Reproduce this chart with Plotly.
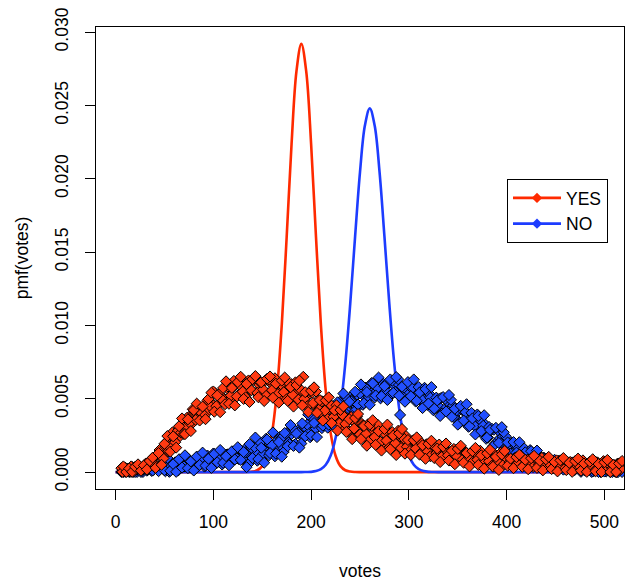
import plotly.graph_objects as go

# Observed vote counts: three interleaved runs of counts
votes = list(range(6, 520, 3))
votes_b = list(range(7, 520, 3))
votes_c = list(range(8, 520, 3))

# Observed pmf of the YES votes
yes_pmf = [
    0.00027, 0.00004, 0.00022, 0.00003, 0.00030, 0.00018, 0.00043, 0.00022, 0.00043, 0.00045, 0.00076, 0.00063,
    0.00114, 0.00151, 0.00108, 0.00174, 0.00142, 0.00234, 0.00218, 0.00294, 0.00246, 0.00310, 0.00304, 0.00377,
    0.00330, 0.00405, 0.00436, 0.00387, 0.00446, 0.00405, 0.00488, 0.00463,
    0.00538, 0.00460, 0.00522, 0.00498, 0.00572, 0.00496, 0.00575, 0.00601, 0.00527, 0.00588, 0.00522, 0.00610,
    0.00563, 0.00630, 0.00542, 0.00594, 0.00560, 0.00624, 0.00537, 0.00605, 0.00623, 0.00540, 0.00592, 0.00519,
    0.00597, 0.00541, 0.00600, 0.00504, 0.00548, 0.00507, 0.00650, 0.00470, 0.00531, 0.00541, 0.00449, 0.00492,
    0.00410, 0.00480, 0.00415, 0.00465, 0.00362, 0.00400, 0.00353, 0.00406, 0.00309, 0.00367, 0.00375, 0.00286,
    0.00332, 0.00253, 0.00329, 0.00270, 0.00326, 0.00228, 0.00272, 0.00231, 0.00290, 0.00199, 0.00263, 0.00277,
    0.00191, 0.00240, 0.00164, 0.00243, 0.00187, 0.00246,
    0.00162, 0.00191, 0.00160, 0.00200, 0.00136, 0.00180, 0.00190, 0.00129, 0.00163, 0.00109, 0.00165, 0.00127,
    0.00169, 0.00103, 0.00135, 0.00108, 0.00150, 0.00088, 0.00134, 0.00145, 0.00086, 0.00121, 0.00069, 0.00126,
    0.00088, 0.00130, 0.00064, 0.00097, 0.00071, 0.00115, 0.00054, 0.00101, 0.00114, 0.00056,
    0.00089, 0.00053, 0.00094, 0.00068, 0.00098, 0.00052, 0.00075, 0.00056, 0.00087, 0.00043, 0.00077, 0.00085,
    0.00044, 0.00070, 0.00033, 0.00074, 0.00048, 0.00078, 0.00032, 0.00055, 0.00038, 0.00069, 0.00026, 0.00060,
    0.00070, 0.00029, 0.00055, 0.00019, 0.00062, 0.00036, 0.00067, 0.00021, 0.00045, 0.00027, 0.00058, 0.00014,
    0.00048, 0.00056, 0.00015, 0.00040,
]
yes_pmf_b = [
    0.00002, 0.00030, 0.00010, 0.00039, 0.00007, 0.00032, 0.00024, 0.00017, 0.00059, 0.00050, 0.00089, 0.00046,
    0.00123, 0.00105, 0.00093, 0.00205, 0.00173, 0.00270, 0.00204, 0.00284, 0.00269, 0.00260, 0.00370, 0.00335,
    0.00429, 0.00356, 0.00427, 0.00403, 0.00385, 0.00489, 0.00448,
    0.00550, 0.00450, 0.00532, 0.00495, 0.00463, 0.00584, 0.00523, 0.00622, 0.00516, 0.00592, 0.00549, 0.00510,
    0.00625, 0.00558, 0.00645, 0.00540, 0.00612, 0.00564, 0.00520, 0.00630, 0.00559, 0.00640, 0.00532, 0.00599,
    0.00545, 0.00497, 0.00603, 0.00527, 0.00612, 0.00494, 0.00558, 0.00500, 0.00449, 0.00552, 0.00471, 0.00550,
    0.00426, 0.00483, 0.00419, 0.00362, 0.00459, 0.00377, 0.00456, 0.00332, 0.00390, 0.00329, 0.00275, 0.00376,
    0.00297, 0.00379, 0.00258, 0.00319, 0.00261, 0.00210, 0.00315, 0.00239, 0.00324, 0.00206, 0.00270, 0.00215,
    0.00167, 0.00273, 0.00197, 0.00282, 0.00164, 0.00228, 0.00173,
    0.00144, 0.00216, 0.00161, 0.00219, 0.00136, 0.00181, 0.00141, 0.00108, 0.00181, 0.00128, 0.00188, 0.00107,
    0.00153, 0.00115, 0.00083, 0.00158, 0.00106, 0.00167, 0.00086, 0.00132, 0.00094, 0.00062, 0.00137, 0.00085,
    0.00146, 0.00065, 0.00111, 0.00074, 0.00044, 0.00120, 0.00070, 0.00132, 0.00052,
    0.00094, 0.00068, 0.00046, 0.00100, 0.00064, 0.00108, 0.00050, 0.00084, 0.00058, 0.00035, 0.00090, 0.00053,
    0.00097, 0.00039, 0.00073, 0.00048, 0.00025, 0.00080, 0.00043, 0.00086, 0.00029, 0.00063, 0.00038, 0.00016,
    0.00072, 0.00036, 0.00080, 0.00024, 0.00058, 0.00033, 0.00010, 0.00066, 0.00030, 0.00075, 0.00018, 0.00051,
    0.00026, 0.00003, 0.00058, 0.00021,
]
yes_pmf_c = [
    0.00039, 0.00001, 0.00025, 0.00002, 0.00036, 0.00053, 0.00010, 0.00046, 0.00018, 0.00076, 0.00099,
    0.00029, 0.00130, 0.00050, 0.00193, 0.00246, 0.00140, 0.00244, 0.00167, 0.00313, 0.00366, 0.00259, 0.00360,
    0.00280, 0.00423, 0.00467, 0.00352, 0.00447, 0.00361, 0.00498, 0.00542,
    0.00412, 0.00523, 0.00409, 0.00574, 0.00619, 0.00466, 0.00574, 0.00455, 0.00614, 0.00650, 0.00499, 0.00601,
    0.00478, 0.00634, 0.00655, 0.00511, 0.00612, 0.00485, 0.00637, 0.00652, 0.00507, 0.00603, 0.00474, 0.00624,
    0.00645, 0.00486, 0.00579, 0.00447, 0.00594, 0.00624, 0.00455, 0.00545, 0.00410, 0.00554, 0.00578, 0.00404,
    0.00491, 0.00351, 0.00489, 0.00510, 0.00334, 0.00421, 0.00283, 0.00424, 0.00448, 0.00274, 0.00361, 0.00225,
    0.00369, 0.00396, 0.00225, 0.00315, 0.00180, 0.00324, 0.00354, 0.00186, 0.00279, 0.00147, 0.00294, 0.00324,
    0.00156, 0.00249, 0.00117, 0.00264, 0.00294, 0.00126, 0.00219,
    0.00117, 0.00218, 0.00237, 0.00119, 0.00183, 0.00091, 0.00193, 0.00214, 0.00096, 0.00161, 0.00069, 0.00173,
    0.00195, 0.00079, 0.00145, 0.00054, 0.00158, 0.00180, 0.00064, 0.00130, 0.00039, 0.00143, 0.00165, 0.00049,
    0.00115, 0.00024, 0.00128, 0.00152, 0.00037, 0.00104, 0.00015, 0.00120, 0.00144,
    0.00044, 0.00092, 0.00027, 0.00102, 0.00119, 0.00036, 0.00084, 0.00020, 0.00095, 0.00111, 0.00029, 0.00077,
    0.00012, 0.00087, 0.00104, 0.00021, 0.00069, 0.00005, 0.00080, 0.00096, 0.00014, 0.00063, 0.00002, 0.00075,
    0.00092, 0.00010, 0.00059, 0.00002, 0.00071, 0.00088, 0.00006, 0.00055, 0.00001, 0.00067, 0.00083, 0.00001,
    0.00049, 0.00001, 0.00059, 0.00076,
]

# Observed pmf of the NO votes
no_pmf = [
    0.00001, 0.00019, 0.00007, 0.00018, 0.00001, 0.00017, 0.00024, 0.00006, 0.00019, 0.00015, 0.00034, 0.00017,
    0.00038, 0.00028, 0.00041,
    0.00006, 0.00051, 0.00066, 0.00021, 0.00051, 0.00039, 0.00084, 0.00039, 0.00087, 0.00057, 0.00087, 0.00039,
    0.00084, 0.00099, 0.00054, 0.00084, 0.00072, 0.00117, 0.00072, 0.00120, 0.00090, 0.00120, 0.00072, 0.00117,
    0.00133, 0.00089, 0.00120,
    0.00101, 0.00175, 0.00099, 0.00179, 0.00129, 0.00180, 0.00100, 0.00176, 0.00202, 0.00128, 0.00180, 0.00162,
    0.00240, 0.00168, 0.00250, 0.00203, 0.00260, 0.00187, 0.00269, 0.00301, 0.00233, 0.00290, 0.00277, 0.00359,
    0.00291, 0.00378, 0.00335, 0.00392, 0.00319, 0.00401, 0.00433, 0.00365, 0.00422, 0.00409, 0.00491, 0.00423,
    0.00510, 0.00467, 0.00524, 0.00451,
    0.00530, 0.00558, 0.00497, 0.00548, 0.00532, 0.00603, 0.00538, 0.00608, 0.00562, 0.00606, 0.00529, 0.00591,
    0.00607, 0.00390, 0.00569, 0.00542, 0.00600, 0.00521, 0.00580, 0.00524, 0.00556, 0.00470, 0.00524, 0.00533,
    0.00452, 0.00483, 0.00452, 0.00506, 0.00425, 0.00483, 0.00424, 0.00454, 0.00367, 0.00419, 0.00427, 0.00344,
    0.00375, 0.00340, 0.00391, 0.00307, 0.00361, 0.00298, 0.00326, 0.00235, 0.00285, 0.00289, 0.00204, 0.00231,
    0.00240, 0.00244,
    0.00169, 0.00202, 0.00157, 0.00172, 0.00111, 0.00142, 0.00144, 0.00087, 0.00105, 0.00081, 0.00116, 0.00061,
    0.00099, 0.00063, 0.00072, 0.00042, 0.00058, 0.00061, 0.00034, 0.00045, 0.00034, 0.00052, 0.00026, 0.00046,
    0.00027, 0.00039, 0.00011, 0.00030, 0.00034, 0.00008, 0.00021, 0.00011, 0.00031, 0.00005, 0.00026, 0.00008,
    0.00020, 0.00001, 0.00014, 0.00019,
]
no_pmf_b = [
    0.00015, 0.00002, 0.00023, 0.00003, 0.00029, 0.00001, 0.00018, 0.00001, 0.00027, 0.00030, 0.00008, 0.00039,
    0.00021, 0.00048, 0.00022,
    0.00045, 0.00002, 0.00064, 0.00067, 0.00011, 0.00086, 0.00038, 0.00100, 0.00032, 0.00072, 0.00025, 0.00091,
    0.00094, 0.00038, 0.00113, 0.00065, 0.00127, 0.00059, 0.00099, 0.00052, 0.00118, 0.00121, 0.00065, 0.00140,
    0.00093, 0.00156, 0.00089,
    0.00136, 0.00056, 0.00166, 0.00171, 0.00078, 0.00202, 0.00124, 0.00228, 0.00115, 0.00184, 0.00108, 0.00220,
    0.00228, 0.00138, 0.00266, 0.00191, 0.00299, 0.00192, 0.00267, 0.00195, 0.00312, 0.00324, 0.00238, 0.00369,
    0.00297, 0.00407, 0.00300, 0.00375, 0.00303, 0.00420, 0.00432, 0.00346, 0.00477, 0.00405, 0.00515, 0.00408,
    0.00483, 0.00411, 0.00528,
    0.00537, 0.00459, 0.00576, 0.00512, 0.00608, 0.00509, 0.00573, 0.00503, 0.00601, 0.00604, 0.00518, 0.00624,
    0.00547, 0.00634, 0.00525, 0.00576, 0.00495, 0.00585, 0.00577, 0.00481, 0.00580, 0.00496, 0.00575, 0.00459,
    0.00507, 0.00422, 0.00508, 0.00499, 0.00401, 0.00499, 0.00415, 0.00493, 0.00375, 0.00422, 0.00335, 0.00420,
    0.00409, 0.00309, 0.00404, 0.00317, 0.00393, 0.00273, 0.00316, 0.00227, 0.00308, 0.00295, 0.00192, 0.00286,
    0.00197, 0.00272,
    0.00166, 0.00191, 0.00129, 0.00180, 0.00169, 0.00100, 0.00161, 0.00100, 0.00150, 0.00070, 0.00098, 0.00041,
    0.00098, 0.00091, 0.00046, 0.00077, 0.00047, 0.00072, 0.00033, 0.00049, 0.00021, 0.00050, 0.00047, 0.00015,
    0.00048, 0.00022, 0.00048, 0.00010, 0.00028, 0.00001, 0.00030, 0.00029, 0.00001, 0.00032, 0.00006, 0.00033,
    0.00001, 0.00014, 0.00001, 0.00018,
]
no_pmf_c = [
    0.00001, 0.00024, 0.00001, 0.00035, 0.00001, 0.00018, 0.00001, 0.00032, 0.00010, 0.00046, 0.00011, 0.00030,
    0.00007, 0.00047, 0.00013,
    0.00097, 0.00009, 0.00055, 0.00002, 0.00088, 0.00031, 0.00115, 0.00027, 0.00073, 0.00011, 0.00106, 0.00049,
    0.00133, 0.00045, 0.00091, 0.00029, 0.00124, 0.00067, 0.00151, 0.00063, 0.00109, 0.00047, 0.00142, 0.00086,
    0.00170, 0.00083,
    0.00137, 0.00034, 0.00191, 0.00096, 0.00236, 0.00089, 0.00166, 0.00064, 0.00223, 0.00130, 0.00271, 0.00126,
    0.00205, 0.00105, 0.00267, 0.00177, 0.00321, 0.00179, 0.00263, 0.00167, 0.00332, 0.00245, 0.00392, 0.00251,
    0.00335, 0.00239, 0.00404, 0.00317, 0.00464, 0.00323, 0.00407, 0.00311, 0.00476, 0.00389, 0.00536, 0.00395,
    0.00479, 0.00383, 0.00548, 0.00461,
    0.00598, 0.00470, 0.00546, 0.00459, 0.00605, 0.00523, 0.00645, 0.00518, 0.00586, 0.00492, 0.00632, 0.00541,
    0.00648, 0.00521, 0.00582, 0.00480, 0.00614, 0.00518, 0.00632, 0.00486, 0.00543, 0.00437, 0.00566, 0.00468,
    0.00580, 0.00433, 0.00489, 0.00383, 0.00512, 0.00414, 0.00526, 0.00377, 0.00432, 0.00324, 0.00452, 0.00352,
    0.00463, 0.00313, 0.00366, 0.00257, 0.00383, 0.00280, 0.00388, 0.00236, 0.00288, 0.00177, 0.00302, 0.00199,
    0.00307, 0.00155,
    0.00202, 0.00125, 0.00205, 0.00133, 0.00204, 0.00102, 0.00135, 0.00060, 0.00143, 0.00074, 0.00147, 0.00049,
    0.00086, 0.00041, 0.00082, 0.00047, 0.00084, 0.00034, 0.00052, 0.00017, 0.00060, 0.00027, 0.00066, 0.00017,
    0.00036, 0.00002, 0.00046, 0.00014, 0.00053, 0.00005, 0.00025, 0.00001, 0.00035, 0.00004, 0.00043, 0.00001,
    0.00016, 0.00001, 0.00027, 0.00001,
]

# Model pmf curves, sampled every 5 votes across the peaks
yes_model_votes = [0, 130, 135, 140, 145, 150, 155, 160, 165, 170, 175, 180, 185, 190,
                   195, 200, 205, 210, 215, 220, 225, 230, 235, 240, 245, 250, 520]
yes_model_pmf = [0.0, 0.0, 0.00001, 0.00004, 0.00013, 0.00041, 0.00112, 0.00266, 0.00552, 0.01006,
                 0.01603, 0.02237, 0.02732, 0.02920, 0.02732, 0.02237, 0.01603, 0.01006, 0.00552,
                 0.00266, 0.00112, 0.00041, 0.00013, 0.00004, 0.00001, 0.0, 0.0]

no_model_votes = [0, 190, 195, 200, 205, 210, 215, 220, 225, 230, 235, 240, 245, 250, 255, 260,
                  265, 270, 275, 280, 285, 290, 295, 300, 305, 310, 315, 320, 325, 330, 520]
no_model_pmf = [0.0, 0.0, 0.00001, 0.00002, 0.00007, 0.00020, 0.00050, 0.00113, 0.00233, 0.00437,
                0.00743, 0.01147, 0.01607, 0.02045, 0.02363, 0.02480, 0.02363, 0.02045, 0.01607,
                0.01147, 0.00743, 0.00437, 0.00233, 0.00113, 0.00050, 0.00020, 0.00007, 0.00002,
                0.00001, 0.0, 0.0]

x_ticks = [0, 100, 200, 300, 400, 500]
y_ticks = [0.000, 0.005, 0.010, 0.015, 0.020, 0.025, 0.030]
y_tick_text = ["0.000", "0.005", "0.010", "0.015", "0.020", "0.025", "0.030"]

RED_LINE = "#ff2a00"
BLUE_LINE = "#1d3cff"
RED_FILL = "#ff3a12"
BLUE_FILL = "#2250ff"
FONT = "Liberation Sans, Arial, Helvetica, sans-serif"

all_votes = votes + votes_b + votes_c

fig = go.Figure()

# model curves underneath
fig.add_trace(go.Scatter(x=yes_model_votes, y=yes_model_pmf, mode="lines",
                         line=dict(color=RED_LINE, width=2.6, shape="spline"),
                         showlegend=False, hoverinfo="skip"))
fig.add_trace(go.Scatter(x=no_model_votes, y=no_model_pmf, mode="lines",
                         line=dict(color=BLUE_LINE, width=2.6, shape="spline"),
                         showlegend=False, hoverinfo="skip"))

# observed points: NO first, YES on top
fig.add_trace(go.Scatter(x=all_votes, y=no_pmf + no_pmf_b + no_pmf_c, mode="markers",
                         marker=dict(symbol="diamond", size=8.5, color=BLUE_FILL,
                                     line=dict(color="black", width=1)),
                         showlegend=False))
fig.add_trace(go.Scatter(x=all_votes, y=yes_pmf + yes_pmf_b + yes_pmf_c, mode="markers",
                         marker=dict(symbol="diamond", size=8.5, color=RED_FILL,
                                     line=dict(color="black", width=1)),
                         showlegend=False))

# legend entries
fig.add_trace(go.Scatter(x=[None], y=[None], mode="lines+markers", name="YES",
                         line=dict(color=RED_LINE, width=2.6),
                         marker=dict(symbol="diamond", size=8, color=RED_LINE)))
fig.add_trace(go.Scatter(x=[None], y=[None], mode="lines+markers", name="NO",
                         line=dict(color=BLUE_LINE, width=2.6),
                         marker=dict(symbol="diamond", size=8, color=BLUE_LINE)))

fig.update_layout(
    width=625, height=582,
    margin=dict(l=96, r=1, t=27, b=93),
    paper_bgcolor="white", plot_bgcolor="white",
    font=dict(family=FONT, size=17.5, color="black"),
    legend=dict(x=(507 - 96) / 528, y=(489 - 179) / 462, xanchor="left", yanchor="top",
                bordercolor="black", borderwidth=1, bgcolor="white",
                font=dict(family=FONT, size=17.5), itemwidth=48, tracegroupgap=0),
)

fig.update_xaxes(range=[-20, 520], tickvals=x_ticks, ticks="outside", ticklen=10,
                 ticklabelstandoff=7,
                 tickcolor="black", showline=True, mirror=True, linecolor="black", linewidth=1,
                 showgrid=False, zeroline=False,
                 title=dict(text="votes", standoff=33, font=dict(family=FONT, size=17.5)))
fig.update_yaxes(range=[-0.00115, 0.03035], tickvals=y_ticks, ticktext=y_tick_text, tickangle=-90,
                 ticks="outside", ticklen=10, ticklabelstandoff=10, tickcolor="black",
                 showline=True, mirror=True,
                 linecolor="black", linewidth=1, showgrid=False, zeroline=False,
                 title=dict(text="pmf(votes)", standoff=18, font=dict(family=FONT, size=17.5)))

fig.write_html("out.html")
